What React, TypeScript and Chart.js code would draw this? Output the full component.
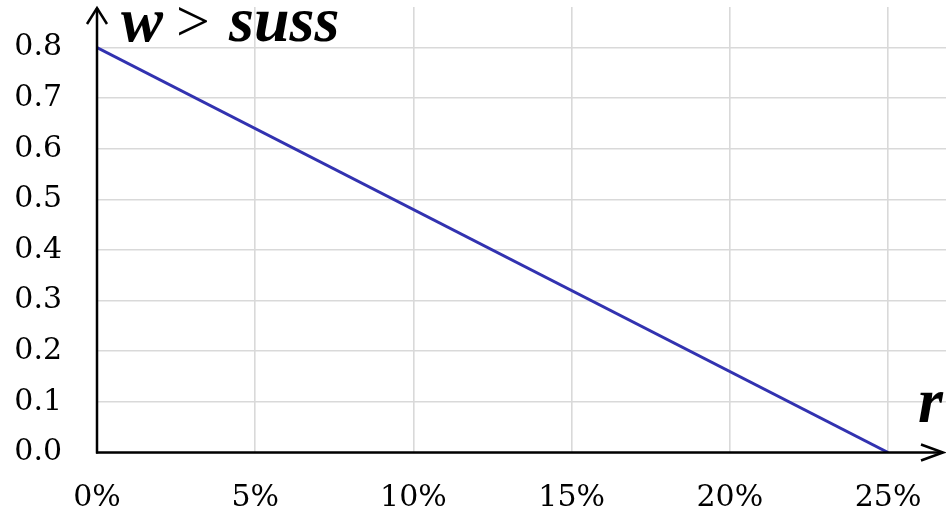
import React, { useEffect, useRef } from "react";
import { Chart, registerables } from "chart.js";

Chart.register(...registerables);

// Data (r in percent, w > suss)
const rateValues = [0, 25];
const wValues = [0.8, 0];
const xTickValues = [0, 5, 10, 15, 20, 25];
const yTickValues = [0, 0.1, 0.2, 0.3, 0.4, 0.5, 0.6, 0.7, 0.8];
const xMaxValue = 26.83;
const yMaxValue = 0.88;
const yAxisTitle = ["w", ">", "suss"];
const xAxisTitle = "r";

const TICK_FONT = "DejaVu Serif";
const MATH_FONT = "Liberation Serif";

const axesPlugin = {
  id: "axesArrows",
  afterDraw(chart: any) {
    const { ctx, chartArea } = chart;
    const x0 = chart.scales.x.getPixelForValue(0);
    const y0 = chart.scales.y.getPixelForValue(0);
    ctx.save();
    ctx.strokeStyle = "#000";
    ctx.lineWidth = 2.5;
    ctx.lineCap = "butt";
    // y axis
    const yTip = chartArea.top;
    ctx.beginPath();
    ctx.moveTo(x0, y0 + 1);
    ctx.lineTo(x0, yTip + 1);
    ctx.stroke();
    ctx.beginPath();
    ctx.moveTo(x0 - 10, yTip + 17);
    ctx.lineTo(x0, yTip + 1);
    ctx.lineTo(x0 + 10, yTip + 17);
    ctx.stroke();
    // x axis
    const xTip = chartArea.right - 3;
    ctx.beginPath();
    ctx.moveTo(x0 - 1, y0);
    ctx.lineTo(xTip, y0);
    ctx.stroke();
    ctx.beginPath();
    ctx.moveTo(xTip - 22, y0 - 8);
    ctx.lineTo(xTip, y0);
    ctx.lineTo(xTip - 22, y0 + 8);
    ctx.stroke();

    // titles
    ctx.fillStyle = "#000";
    ctx.textBaseline = "alphabetic";
    ctx.textAlign = "left";
    ctx.font = `bold italic 63px "${MATH_FONT}"`;
    ctx.fillText(yAxisTitle[0], 121, 41);
    ctx.font = `60px "${MATH_FONT}"`;
    ctx.fillText(yAxisTitle[1], 176, 41);
    ctx.font = `bold italic 64px "${MATH_FONT}"`;
    ctx.fillText(yAxisTitle[2], 229, 41);
    ctx.fillText(xAxisTitle, 918, 422);
    ctx.restore();
  },
};

export default function App() {
  const ref = useRef<HTMLCanvasElement>(null);

  useEffect(() => {
    document.body.style.margin = "0";
    const canvas = ref.current;
    if (!canvas) return;
    const chart = new Chart(canvas, {
      type: "line",
      data: {
        datasets: [
          {
            data: rateValues.map((r, i) => ({ x: r, y: wValues[i] })),
            borderColor: "#3232b0",
            borderWidth: 3,
            pointRadius: 0,
            fill: false,
            tension: 0,
          },
        ],
      },
      options: {
        responsive: false,
        animation: false,
        events: [],
        layout: { padding: { top: 7, right: 0, left: 0, bottom: 0 } },
        plugins: { legend: { display: false }, tooltip: { enabled: false } },
        scales: {
          x: {
            type: "linear",
            min: 0,
            max: xMaxValue,
            border: { display: false },
            grid: { color: "#d9d9d9", lineWidth: 1.6, drawTicks: false },
            afterBuildTicks: (scale: any) => {
              scale.ticks = xTickValues.map((v) => ({ value: v }));
            },
            afterFit: (scale: any) => {
              scale.height = 66.5;
              scale.paddingLeft = 0;
              scale.paddingRight = 0;
            },
            ticks: {
              padding: 28,
              color: "#000",
              font: { family: TICK_FONT, size: 30 },
              maxRotation: 0,
              autoSkip: false,
              callback: (v: any) => `${v}%`,
            },
          },
          y: {
            type: "linear",
            min: 0,
            max: yMaxValue,
            border: { display: false },
            grid: { color: "#d9d9d9", lineWidth: 1.6, drawTicks: false },
            afterBuildTicks: (scale: any) => {
              scale.ticks = yTickValues.map((v) => ({ value: v }));
            },
            afterFit: (scale: any) => {
              scale.width = 97;
              scale.paddingTop = 0;
              scale.paddingBottom = 0;
            },
            ticks: {
              padding: 35,
              color: "#000",
              font: { family: TICK_FONT, size: 30 },
              autoSkip: false,
              callback: (v: any) => Number(v).toFixed(1),
            },
          },
        },
      },
      plugins: [axesPlugin],
    } as any);
    return () => chart.destroy();
  }, []);

  return (
    <div style={{ position: "absolute", left: 0, top: 0, width: 946, height: 519 }}>
      <canvas ref={ref} width={946} height={519} style={{ display: "block" }} />
    </div>
  );
}
